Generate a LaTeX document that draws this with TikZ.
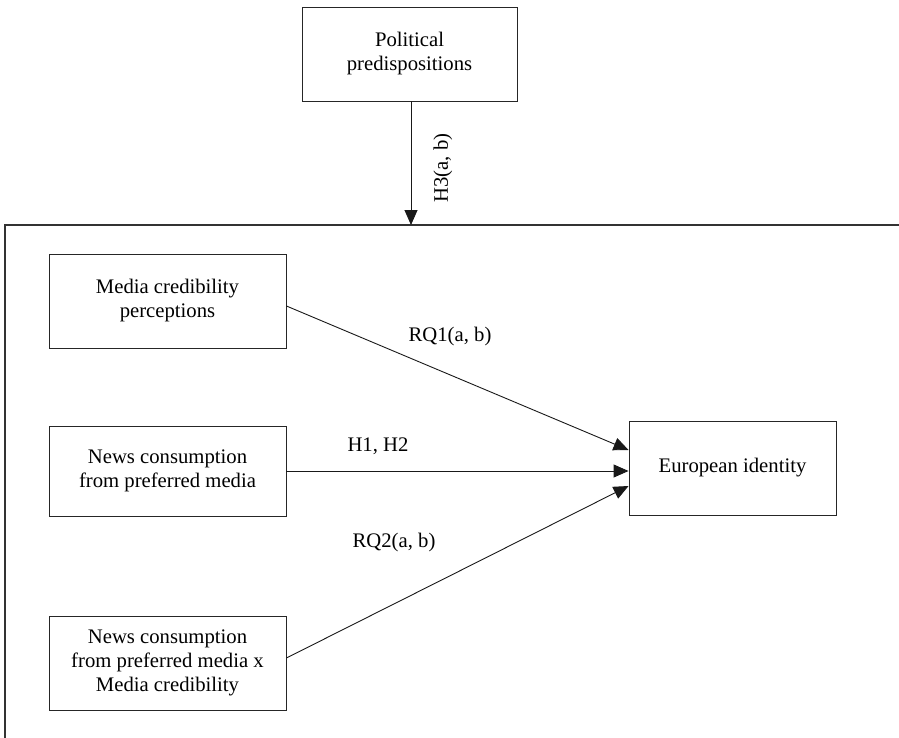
\documentclass[tikz,border=0pt]{standalone}
\usepackage{fontspec}
\setmainfont{Liberation Serif}
\usetikzlibrary{arrows.meta}
\begin{document}
\begin{tikzpicture}[x=1pt,y=-1pt,
  box/.style={draw=black!85, line width=0.9pt, align=center, inner sep=0pt,
    font=\fontsize{20.7}{24}\selectfont},
  lab/.style={font=\fontsize{20.7}{24}\selectfont, inner sep=0pt},
  conn/.style={draw=black!90, line width=0.9pt, -{Triangle[length=15pt,width=13pt]}}]
\useasboundingbox (0,0) rectangle (899,738);
% outer frame (top and left sides visible)
\draw[line width=1.4pt, black!80] (899,225) -- (5,225) -- (5,738);
\coordinate (top) at (411,225);
\node[box, minimum width=215pt, minimum height=94pt] (pol) at (409.5,54) {Political\\predispositions};
\node[box, minimum width=237pt, minimum height=94pt] (mcp) at (167.5,301) {Media credibility\\perceptions};
\node[box, minimum width=237pt, minimum height=90pt] (news) at (167.5,471) {News consumption\\from preferred media};
\node[box, minimum width=237pt, minimum height=94pt] (inter) at (167.5,663) {News consumption\\from preferred media x\\Media credibility};
\node[box, minimum width=207pt, minimum height=94pt] (eu) at (732.5,468) {European identity};
\draw[conn] (pol.south -| top) -- (top);
\draw[conn] ([yshift=-5pt]mcp.east) -- ([yshift=18pt]eu.west);
\draw[conn] (news.east) -- (news.east -| eu.west);
\draw[conn] ([yshift=5pt]inter.east) -- ([yshift=-18pt]eu.west);
\node[lab, rotate=90] (h3) at (443,168) {H3(a, b)};
\node[lab] (rq1) at (450,337) {RQ1(a, b)};
\node[lab] (h12) at (378,446) {H1, H2};
\node[lab] (rq2) at (394,543) {RQ2(a, b)};
\end{tikzpicture}
\end{document}
